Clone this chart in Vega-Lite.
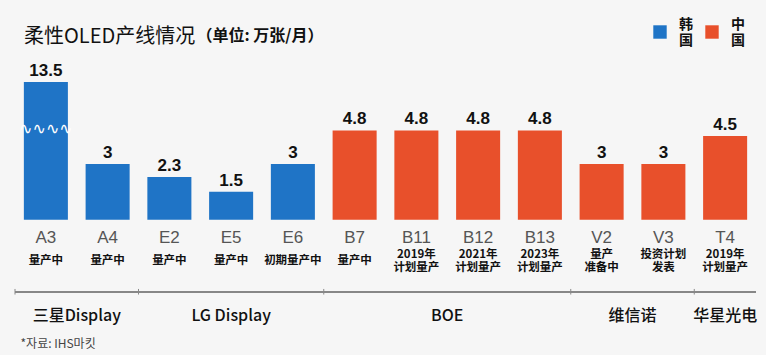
{
  "$schema": "https://vega.github.io/schema/vega-lite/v6.json",
  "width": 741,
  "height": 268,
  "autosize": "none",
  "padding": {"left": 15, "top": 82, "right": 10, "bottom": 5},
  "background": "#f6f6f6",
  "config": {"view": {"stroke": null}, "font": "Noto Sans CJK SC"},
  "title": {"text": "柔性OLED产线情况", "anchor": "start", "frame": "group", "dx": 9, "offset": 0, "dy": 22, "fontSize": 20, "fontWeight": "normal", "font": "Noto Sans CJK SC", "color": "#111111"},
  "data": {"values": [
    {"code": "A3", "maker": "三星Display", "country": "韩国", "value": 13.5, "status": "量产中"},
    {"code": "A4", "maker": "三星Display", "country": "韩国", "value": 3, "status": "量产中"},
    {"code": "E2", "maker": "LG Display", "country": "韩国", "value": 2.3, "status": "量产中"},
    {"code": "E5", "maker": "LG Display", "country": "韩国", "value": 1.5, "status": "量产中"},
    {"code": "E6", "maker": "LG Display", "country": "韩国", "value": 3, "status": "初期量产中"},
    {"code": "B7", "maker": "BOE", "country": "中国", "value": 4.8, "status": "量产中"},
    {"code": "B11", "maker": "BOE", "country": "中国", "value": 4.8, "status": "2019年\n计划量产"},
    {"code": "B12", "maker": "BOE", "country": "中国", "value": 4.8, "status": "2021年\n计划量产"},
    {"code": "B13", "maker": "BOE", "country": "中国", "value": 4.8, "status": "2023年\n计划量产"},
    {"code": "V2", "maker": "维信诺", "country": "中国", "value": 3, "status": "量产\n准备中"},
    {"code": "V3", "maker": "维信诺", "country": "中国", "value": 3, "status": "投资计划\n发表"},
    {"code": "T4", "maker": "华星光电", "country": "中国", "value": 4.5, "status": "2019年\n计划量产"}
  ]},
  "layer": [
    {
      "mark": {"type": "bar"},
      "encoding": {
        "x": {"field": "code", "type": "nominal", "sort": null,
          "scale": {"paddingInner": 0.287, "paddingOuter": 0.1435},
          "axis": {"title": "*자료: IHS마킷", "labels": false, "ticks": false, "domain": false, "titleAnchor": "start", "titleX": 5, "titleY": -7, "titleAlign": "left", "titleBaseline": "middle", "titleFont": "Noto Sans CJK KR", "titleFontSize": 12, "titleFontWeight": "normal", "titleColor": "#444444"}},
        "y": {"field": "value", "type": "quantitative",
          "scale": {"domain": [-7.0, 7.4], "clamp": true, "nice": false, "zero": false},
          "axis": {"title": "（单位: 万张/月）", "labels": false, "ticks": false, "domain": false, "grid": false, "titleAngle": 0, "titleX": 181, "titleY": -47, "titleAlign": "left", "titleBaseline": "middle", "titleFont": "Noto Sans CJK SC", "titleFontSize": 16, "titleFontWeight": "bold", "titleColor": "#111111"}},
        "y2": {"datum": 0},
        "color": {"field": "country", "type": "nominal",
          "scale": {"domain": ["韩国", "中国"], "range": ["#1f74c6", "#e8502b"]},
          "legend": {"orient": "none", "legendX": 638, "legendY": -57, "direction": "horizontal", "title": null, "symbolType": "square", "symbolSize": 180, "symbolStrokeWidth": 0, "labelExpr": "split(datum.label, '')", "labelFontSize": 14, "labelLineHeight": 14, "labelFontWeight": "bold", "labelFont": "Noto Sans CJK SC", "labelColor": "#111111", "labelBaseline": "bottom", "labelOffset": 12, "columnPadding": 12}}
      }
    },
    {
      "transform": [{"filter": "datum.value > 7.4"}],
      "mark": {"type": "text", "text": "∿∿∿∿", "font": "DejaVu Sans", "fontSize": 16, "color": "white", "baseline": "middle"},
      "encoding": {
        "x": {"field": "code", "type": "nominal", "sort": null},
        "y": {"datum": 4.87}
      }
    },
    {
      "mark": {"type": "text", "font": "Liberation Sans", "fontWeight": "bold", "fontSize": 17, "color": "#111111", "baseline": "alphabetic", "dy": -6},
      "encoding": {
        "x": {"field": "code", "type": "nominal", "sort": null},
        "y": {"field": "value", "type": "quantitative"},
        "text": {"field": "value", "type": "quantitative", "format": "~g"}
      }
    },
    {
      "mark": {"type": "text", "font": "Liberation Sans", "fontSize": 17, "color": "#555555", "baseline": "middle"},
      "encoding": {
        "x": {"field": "code", "type": "nominal", "sort": null},
        "y": {"datum": -0.98},
        "text": {"field": "code"}
      }
    },
    {
      "transform": [{"filter": "indexof(datum.status, '\\n') < 0"}],
      "mark": {"type": "text", "font": "Noto Sans CJK SC", "fontWeight": "bold", "fontSize": 11.5, "color": "#111111", "baseline": "middle"},
      "encoding": {
        "x": {"field": "code", "type": "nominal", "sort": null},
        "y": {"datum": -2.22},
        "text": {"field": "status"}
      }
    },
    {
      "transform": [{"filter": "indexof(datum.status, '\\n') >= 0"}],
      "mark": {"type": "text", "font": "Noto Sans CJK SC", "fontWeight": "bold", "fontSize": 11.5, "lineHeight": 13, "lineBreak": "\n", "color": "#111111", "baseline": "middle"},
      "encoding": {
        "x": {"field": "code", "type": "nominal", "sort": null},
        "y": {"datum": -1.92},
        "text": {"field": "status"}
      }
    },
    {
      "mark": {"type": "rule", "color": "#888888", "strokeWidth": 1},
      "encoding": {"y": {"datum": -3.88}}
    },
    {
      "transform": [
        {"window": [{"op": "row_number", "as": "k"}], "groupby": ["maker"]},
        {"filter": "datum.k == 1"}
      ],
      "mark": {"type": "rule", "color": "#888888", "strokeWidth": 1, "xOffset": -8.86},
      "encoding": {
        "x": {"field": "code", "type": "nominal", "sort": null, "bandPosition": 0},
        "y": {"datum": -4.02},
        "y2": {"datum": -3.72}
      }
    },
    {
      "transform": [
        {"window": [{"op": "row_number", "as": "k"}], "groupby": ["maker"]},
        {"joinaggregate": [{"op": "count", "as": "n"}], "groupby": ["maker"]},
        {"filter": "datum.n % 2 == 1 && datum.k == (datum.n + 1) / 2"}
      ],
      "mark": {"type": "text", "font": "Noto Sans CJK SC", "fontSize": 16, "fontWeight": 500, "color": "#111111", "baseline": "middle"},
      "encoding": {
        "x": {"field": "code", "type": "nominal", "sort": null},
        "y": {"datum": -5.17},
        "text": {"field": "maker"}
      }
    },
    {
      "transform": [
        {"window": [{"op": "row_number", "as": "k"}], "groupby": ["maker"]},
        {"joinaggregate": [{"op": "count", "as": "n"}], "groupby": ["maker"]},
        {"filter": "datum.n % 2 == 0 && datum.k == datum.n / 2 + 1"}
      ],
      "mark": {"type": "text", "font": "Noto Sans CJK SC", "fontSize": 16, "fontWeight": 500, "color": "#111111", "baseline": "middle", "xOffset": -8.86},
      "encoding": {
        "x": {"field": "code", "type": "nominal", "sort": null, "bandPosition": 0},
        "y": {"datum": -5.17},
        "text": {"field": "maker"}
      }
    }
  ]
}
